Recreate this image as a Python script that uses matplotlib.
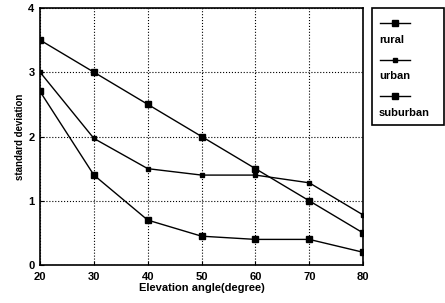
import matplotlib
matplotlib.use("Agg")
import matplotlib.pyplot as plt
from matplotlib.patches import Rectangle
from matplotlib.lines import Line2D

angles = [20, 30, 40, 50, 60, 70, 80]
rural = [2.7, 1.4, 0.7, 0.45, 0.4, 0.4, 0.2]
urban = [3.0, 1.97, 1.5, 1.4, 1.4, 1.28, 0.78]
suburban = [3.5, 3.0, 2.5, 2.0, 1.5, 1.0, 0.5]
series_names = ["rural", "urban", "suburban"]

plt.rcParams['font.family'] = ['Liberation Sans', 'DejaVu Sans']
fig = plt.figure(figsize=(4.45, 3.03), dpi=100)
ax = fig.add_axes([0.09, 0.125, 0.726, 0.849])

ax.plot(angles, rural, color='black', lw=1.0, marker='s', ms=4, mfc='black')
ax.plot(angles, urban, color='black', lw=1.0, marker='s', ms=2.5, mfc='black')
ax.plot(angles, suburban, color='black', lw=1.0, marker='s', ms=4.5, mfc='black')

ax.set_xlim(20, 80)
ax.set_ylim(0, 4)
ax.set_xticks(angles)
ax.set_yticks([0, 1, 2, 3, 4])
ax.grid(True, color='black', linestyle=':', lw=0.8)
ax.tick_params(direction='in', length=3, labelsize=8)
ax.tick_params(axis='x', pad=5)
ax.tick_params(axis='y', pad=4)
for lab in ax.get_xticklabels() + ax.get_yticklabels():
    lab.set_fontweight('bold')
for s in ax.spines.values():
    s.set_linewidth(1.2)
ax.set_xlabel("Elevation angle(degree)", fontsize=8, fontweight='bold', labelpad=1)
ax.set_ylabel("standard deviation", fontsize=7, fontweight='bold', labelpad=2)

# legend box
lx0, ly0, lx1, ly1 = 372/445, 1-125/303, 444/445, 1-8/303
fig.patches.append(Rectangle((lx0, ly0), lx1-lx0, ly1-ly0, transform=fig.transFigure,
                             fill=False, edgecolor='black', lw=1.2))
ms_list = [4, 2.5, 4]
line_y = [23, 60, 96]
text_y = [40, 76, 113]
for name, ms, yl, yt in zip(series_names, ms_list, line_y, text_y):
    fig.add_artist(Line2D([380/445, 410/445], [1-yl/303, 1-yl/303], transform=fig.transFigure,
                          color='black', lw=1.0))
    fig.add_artist(Line2D([395/445], [1-yl/303], transform=fig.transFigure,
                          color='black', marker='s', ms=ms, mfc='black', lw=0))
    fig.text(379/445, 1-yt/303, name, fontsize=8, fontweight='bold', va='center', ha='left')

fig.savefig("out.png", dpi=100)
